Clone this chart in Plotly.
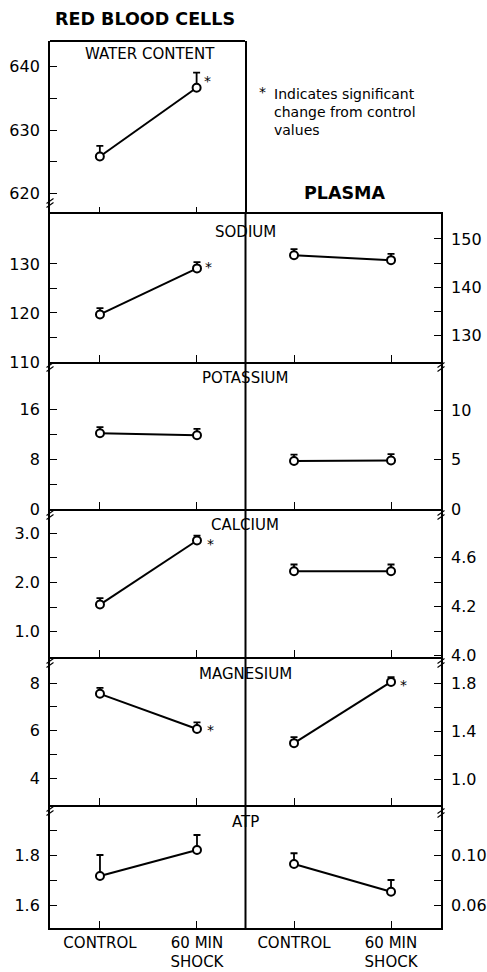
import plotly.graph_objects as go

# ---------------- data ----------------
panels = ["WATER CONTENT", "SODIUM", "POTASSIUM", "CALCIUM", "MAGNESIUM", "ATP"]
x_labels = ["CONTROL", "60 MIN<br>SHOCK", "CONTROL", "60 MIN<br>SHOCK"]

rbc_control = [625.8, 119.7, 12.15, 1.55, 7.55, 1.716]
rbc_control_err = [1.7, 1.3, 1.0, 0.13, 0.25, 0.084]
rbc_shock = [636.7, 129.1, 11.85, 2.85, 6.07, 1.82]
rbc_shock_err = [2.4, 1.3, 1.0, 0.10, 0.28, 0.06]

plasma_control = [None, 146.6, 4.85, 4.49, 1.304, 0.0928]
plasma_control_err = [None, 1.3, 0.65, 0.055, 0.05, 0.0086]
plasma_shock = [None, 145.6, 4.90, 4.49, 1.813, 0.0706]
plasma_shock_err = [None, 1.3, 0.65, 0.055, 0.04, 0.0094]

# significance (True = asterisk)
rbc_sig = [True, True, False, True, True, False]
plasma_sig = [False, False, False, False, True, False]

# axis ticks
left_ticks = [
    [620, 625, 630, 635, 640],
    [110, 115, 120, 125, 130],
    [0, 4, 8, 12, 16],
    [1.0, 1.5, 2.0, 2.5, 3.0],
    [4, 5, 6, 7, 8],
    [1.6, 1.7, 1.8, 1.9],
]
left_text = [
    ["620", "", "630", "", "640"],
    ["110", "", "120", "", "130"],
    ["0", "", "8", "", "16"],
    ["1.0", "", "2.0", "", "3.0"],
    ["4", "", "6", "", "8"],
    ["1.6", "", "1.8", ""],
]
right_ticks = [
    None,
    [130, 135, 140, 145, 150],
    [0, 5, 10],
    [3.8, 4.0, 4.2, 4.4, 4.6],
    [1.0, 1.2, 1.4, 1.6, 1.8],
    [0.06, 0.08, 0.10, 0.12],
]
right_text = [
    None,
    ["130", "", "140", "", "150"],
    ["0", "5", "10"],
    ["4.0", "", "4.2", "", "4.6"],
    ["1.0", "", "1.4", "", "1.8"],
    ["0.06", "", "0.10", ""],
]

# ---------------- layout geometry (pixels) ----------------
FW, FH = 487, 972
L, R_EDGE, T, B_EDGE = 50, 441, 41, 928
PW, PH = R_EDGE - L, B_EDGE - T
bounds = [(41, 214), (214, 362), (362, 509), (509, 657), (657, 805), (805, 928)]
left_ranges = [(616.7, 644.1), (110, 140.2), (0, 23.6), (0.486, 3.49), (2.87, 9.1), (1.508, 2.0)]
right_ranges = [None, (124.4, 155.2), (0, 14.85), (3.787, 5.0), (0.79, 2.02), (0.0416, 0.14)]
XR = [-0.515, 3.515]


def px(xp):
    return (xp - L) / PW


def py(yp):
    return (B_EDGE - yp) / PH


FONT = "DejaVu Sans"
fig = go.Figure()
layout = dict(
    width=FW, height=FH,
    margin=dict(l=L, r=FW - R_EDGE, t=T, b=FH - B_EDGE, autoexpand=False),
    paper_bgcolor="white", plot_bgcolor="white",
    showlegend=False,
    font=dict(family=FONT, size=15, color="black"),
)

axis_common = dict(showgrid=False, zeroline=False, showline=True, linecolor="black",
                   linewidth=1.8, ticks="inside", ticklen=7, tickwidth=1.4, tickcolor="black")

n = len(panels)
for i in range(n):
    k = i + 1
    xa = "xaxis" if k == 1 else f"xaxis{k}"
    ya = "yaxis" if k == 1 else f"yaxis{k}"
    xname = "x" if k == 1 else f"x{k}"
    yname = "y" if k == 1 else f"y{k}"
    top, bot = bounds[i]
    ydom = [py(bot), py(top)]
    if i == 0:
        xdom = [0, px(245)]
        xr = [XR[0], 1.5]
    else:
        xdom = [0, 1]
        xr = XR
    layout[xa] = dict(axis_common, domain=xdom, range=xr, anchor=yname,
                      showline=(i != 0), mirror=(i == 1),
                      tickvals=[0, 1, 2, 3] if i > 0 else [0, 1],
                      ticktext=x_labels if i > 0 else x_labels[:2],
                      showticklabels=(i == n - 1),
                      tickfont=dict(family=FONT, size=15))
    layout[ya] = dict(axis_common, domain=ydom, range=list(left_ranges[i]), anchor=xname,
                      mirror=(i == 0), tickvals=left_ticks[i], ticktext=left_text[i],
                      ticklabelstandoff=5, tickfont=dict(family=FONT, size=16))

    # RBC trace
    fig.add_trace(go.Scatter(
        x=[0, 1], y=[rbc_control[i], rbc_shock[i]], xaxis=xname, yaxis=yname,
        mode="lines+markers",
        line=dict(color="black", width=2),
        marker=dict(symbol="circle", size=8, color="white", line=dict(color="black", width=2)),
        error_y=dict(type="data", symmetric=False,
                     array=[rbc_control_err[i], rbc_shock_err[i]], arrayminus=[0, 0],
                     color="black", thickness=1.8, width=3.5),
        cliponaxis=False,
    ))

    if plasma_control[i] is not None:
        ry = f"yaxis{n + k}"
        ryname = f"y{n + k}"
        layout[ry] = dict(axis_common, domain=ydom, range=list(right_ranges[i]), anchor=xname,
                          overlaying=yname, side="right", tickvals=right_ticks[i],
                          ticktext=right_text[i], ticklabelstandoff=5,
                          tickfont=dict(family=FONT, size=16))
        fig.add_trace(go.Scatter(
            x=[2, 3], y=[plasma_control[i], plasma_shock[i]], xaxis=xname, yaxis=ryname,
            mode="lines+markers",
            line=dict(color="black", width=2),
            marker=dict(symbol="circle", size=8, color="white", line=dict(color="black", width=2)),
            error_y=dict(type="data", symmetric=False,
                         array=[plasma_control_err[i], plasma_shock_err[i]], arrayminus=[0, 0],
                         color="black", thickness=1.8, width=3.5),
            cliponaxis=False,
        ))

fig.update_layout(**layout)

annotations = []
# panel titles
title_pos = [(150, 54), (245, 232), (245, 378), (245, 525), (245, 674), (245, 822)]
for name, (xp, yp) in zip(panels, title_pos):
    annotations.append(dict(xref="paper", yref="paper", x=px(xp), y=py(yp), text=name,
                            showarrow=False, xanchor="center", yanchor="middle",
                            font=dict(family=FONT, size=15)))

# significance asterisks
star_shift = [(11, 7), (12, 1), (0, 0), (14, -3), (14, -1), (0, 0)]
for i in range(n):
    xname = "x" if i == 0 else f"x{i + 1}"
    yname = "y" if i == 0 else f"y{i + 1}"
    if rbc_sig[i]:
        annotations.append(dict(xref=xname, yref=yname, x=1, y=rbc_shock[i], text="*",
                                showarrow=False, xshift=star_shift[i][0], yshift=star_shift[i][1],
                                font=dict(family=FONT, size=14)))
    if plasma_sig[i]:
        annotations.append(dict(xref=xname, yref=f"y{n + i + 1}", x=3, y=plasma_shock[i], text="*",
                                showarrow=False, xshift=12, yshift=-3,
                                font=dict(family=FONT, size=14)))

# headings
annotations.append(dict(xref="paper", yref="paper", x=px(53), y=py(19), text="<b>RED BLOOD CELLS</b>",
                        showarrow=False, xanchor="left", yanchor="middle",
                        font=dict(family=FONT, size=17.5)))
annotations.append(dict(xref="paper", yref="paper", x=px(345), y=py(193), text="<b>PLASMA</b>",
                        showarrow=False, xanchor="center", yanchor="middle",
                        font=dict(family=FONT, size=17.5)))
# note
annotations.append(dict(xref="paper", yref="paper", x=px(262), y=py(92), text="*",
                        showarrow=False, xanchor="center", yanchor="middle",
                        font=dict(family=FONT, size=14)))
annotations.append(dict(xref="paper", yref="paper", x=px(272), y=py(84),
                        text="Indicates significant<br>change from control<br>values",
                        showarrow=False, xanchor="left", yanchor="top", align="left",
                        font=dict(family=FONT, size=14)))

shapes = []
# water panel top edge
shapes.append(dict(type="line", xref="paper", yref="paper", x0=px(50), x1=px(245),
                   y0=py(41), y1=py(41), line=dict(color="black", width=1.8)))
# central divider
shapes.append(dict(type="line", xref="x2", yref="paper", x0=1.5, x1=1.5, y0=0, y1=py(214),
                   line=dict(color="black", width=2)))
# axis break marks
breaks = [(50, 203), (50, 367), (50, 515), (50, 663), (50, 811),
          (441, 367), (441, 515), (441, 663), (441, 813)]
for xb, yb in breaks:
    for off in (-2, 2):
        shapes.append(dict(type="line", xref="paper", yref="paper",
                           x0=px(xb - 3.5), y0=py(yb + off + 2.5), x1=px(xb + 3.5), y1=py(yb + off - 2.5),
                           line=dict(color="black", width=1.1)))

fig.update_layout(annotations=annotations, shapes=shapes)
fig.write_html(
    "out.html",
    config={"displayModeBar": False},
    post_script="document.body.style.margin='0';document.body.style.overflow='hidden';",
)
